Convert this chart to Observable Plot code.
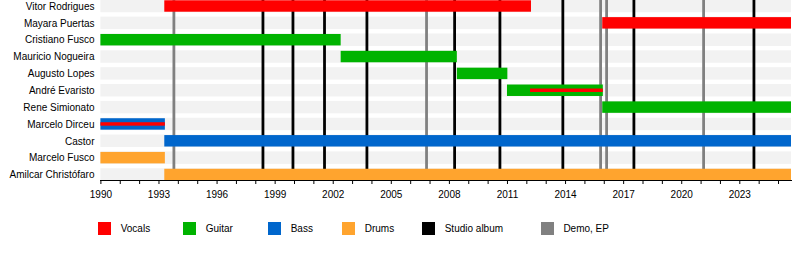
<!DOCTYPE html>
<html><head><meta charset="utf-8">
<script src="https://cdn.jsdelivr.net/npm/d3@7"></script>
<script src="https://cdn.jsdelivr.net/npm/@observablehq/plot@0.6"></script>
<style>
body{margin:0;background:#fff;font-family:"Liberation Sans",Arial,sans-serif;}
#wrap{position:relative;width:800px;height:260px;overflow:hidden;}
#legend{position:absolute;left:0;top:210px;width:800px;height:50px;font-size:10px;color:#000;}
.sw{position:absolute;width:12.5px;height:12.5px;top:12px}
.lt{position:absolute;top:12px;line-height:13px;white-space:nowrap}
</style></head><body>
<div id="wrap"><div id="chart"></div><div id="legend"></div></div>
<script>
const members = ["Vitor Rodrigues","Mayara Puertas","Cristiano Fusco","Mauricio Nogueira","Augusto Lopes","André Evaristo","Rene Simionato","Marcelo Dirceu","Castor","Marcelo Fusco","Amilcar Christófaro"];
const roles = ["Vocals","Guitar","Bass","Drums"];
const roleColors = ["#ff0000","#00b300","#0066cc","#ffa42e"];
const releaseTypes = ["Studio album","Demo, EP"];
const releaseColors = ["#000000","#808080"];
const startYear = 1990;
const endYear = 2025.67;
const tickYears = d3.range(1990, 2026);
// main stints: member, role, start, end
const stints = [
  ["Vitor Rodrigues","Vocals",1993.3,2012.24],
  ["Mayara Puertas","Vocals",2015.92,endYear],
  ["Cristiano Fusco","Guitar",1990,2002.41],
  ["Mauricio Nogueira","Guitar",2002.41,2008.41],
  ["Augusto Lopes","Guitar",2008.41,2011.02],
  ["André Evaristo","Guitar",2011.0,2015.95],
  ["Rene Simionato","Guitar",2015.92,endYear],
  ["Marcelo Dirceu","Bass",1990,1993.33],
  ["Castor","Bass",1993.3,endYear],
  ["Marcelo Fusco","Drums",1990,1993.33],
  ["Amilcar Christófaro","Drums",1993.3,endYear]
];
// secondary roles drawn as thin lines
const secondary = [
  ["André Evaristo","Vocals",2012.19,2015.95],
  ["Marcelo Dirceu","Vocals",1990,1993.33]
];
const studioAlbums = [1998.37,1999.92,2001.55,2003.74,2008.27,2010.61,2013.86,2017.53,2023.73];
const demos = [1993.77,2006.82,2015.81,2016.12,2021.13];

const chart = Plot.plot({
  width: 800,
  height: 210,
  marginLeft: 100,
  marginRight: 9,
  marginTop: 0,
  marginBottom: 30,
  style: {fontFamily: '"Liberation Sans", Arial, sans-serif', fontSize: "10px", color: "#000", background: "#fff"},
  x: {domain: [startYear, endYear], range: [100.4, 791]},
  y: {domain: members, range: [-2.425, 182.925], padding: 0, round: false},
  color: {domain: roles, range: roleColors},
  marks: [
    Plot.barX(members, {y: d => d, x1: startYear, x2: endYear, fill: "#f2f2f2", insetTop: 2.2, insetBottom: 2.2}),
    Plot.ruleX(demos, {x: d => d, stroke: releaseColors[1], strokeWidth: 2.8}),
    Plot.ruleX(studioAlbums, {x: d => d, stroke: releaseColors[0], strokeWidth: 2.8}),
    Plot.barX(stints, {y: d => d[0], x1: d => d[2], x2: d => d[3], fill: d => d[1], insetTop: 2.7, insetBottom: 2.7}),
    Plot.barX(secondary, {y: d => d[0], x1: d => d[2], x2: d => d[3], fill: d => d[1], insetTop: 6.7, insetBottom: 6.7}),
    Plot.axisY({tickSize: 0, tickPadding: 6, label: null, fontSize: 10}),
    Plot.axisX({ticks: tickYears, tickSize: 4, tickPadding: 6, label: null, fontSize: 10,
      tickFormat: d => ((d - startYear) % 3 === 0 ? String(d) : "")}),
    Plot.frame({anchor: "bottom", stroke: "#000"})
  ]
});
document.getElementById("chart").appendChild(chart);

const legendItems = roles.map((r, i) => [r, roleColors[i]]).concat(releaseTypes.map((r, i) => [r, releaseColors[i]]));
const legendX = [98.3, 183.3, 268.3, 342.3, 422.3, 541];
const legend = document.getElementById("legend");
legendItems.forEach(([label, color], i) => {
  const sw = document.createElement("div");
  sw.className = "sw"; sw.style.left = legendX[i] + "px"; sw.style.background = color;
  const t = document.createElement("div");
  t.className = "lt"; t.style.left = (legendX[i] + 22.4) + "px"; t.textContent = label;
  legend.appendChild(sw); legend.appendChild(t);
});
</script>
</body></html>
